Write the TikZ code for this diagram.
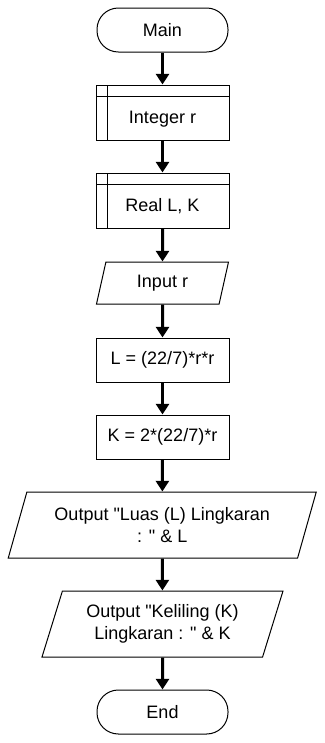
\documentclass[tikz,border=0pt]{standalone}
\usepackage{fontspec}
\setmainfont{Liberation Sans}[Ligatures=TeXOff]
\usetikzlibrary{shapes.geometric, arrows.meta}
\tikzstyle{arrow} = [line width=2.25pt, -{Triangle[length=8pt, width=9.75pt]}]
\tikzstyle{term}  = [draw, line width=0.75pt, rounded corners=16pt, minimum width=98.25pt, minimum height=33pt, align=center]

\begin{document}
\begin{tikzpicture}[
        x=0.75pt, y=-0.75pt,
        every node/.style={font=\fontsize{13.5}{16}\selectfont},
        proc/.style={
            draw,
            line width=0.75pt,
            minimum width=99.75pt,
            minimum height=33pt,
            align=center
        },
        decl/.style={
            proc,
            minimum height=41.25pt,
            text height=18pt,
            text depth=1pt,
            path picture={
                \draw[line width=0.75pt] ([yshift=-8.25pt]path picture bounding box.north west) -- ([yshift=-8.25pt]path picture bounding box.north east);
                \draw[line width=0.75pt] ([xshift=8.25pt]path picture bounding box.north west) -- ([xshift=8.25pt]path picture bounding box.south west);
            }
        },
        io/.style={
            draw,
            line width=0.75pt,
            trapezium,
            trapezium left angle=63.4,
            trapezium right angle=116.6,
            trapezium stretches body,
            inner sep=1pt,
            align=center
        }
    ]

        \useasboundingbox (0,0) rectangle (325,743);

        \node[term] (main) at (162.5,30) {Main};
        \node[decl] (int) at (162.5,112.5) {Integer r};
        \node[decl] (real) at (162.5,200.5) {Real L, K};
        \node[io, minimum width=99pt, minimum height=31.5pt] (inp) at (162.5,283) {Input r};
        \node[proc] (luas) at (162.5,360) {L = (22/7)*r*r};
        \node[proc] (kel) at (162.5,437) {K = 2*(22/7)*r};
        \node[io, minimum width=231pt, minimum height=49.5pt] (outl) at (162.25,525) {Output "Luas (L) Lingkaran\\ : " \& L};
        \node[io, minimum width=180.75pt, minimum height=49.5pt] (outk) at (162.5,624) {Output "Keliling (K)\\ Lingkaran : " \& K};
        \node[term] (end) at (162.5,712) {End};

        \draw[arrow] (main) -- (int);
        \draw[arrow] (int) -- (real);
        \draw[arrow] (real) -- (inp);
        \draw[arrow] (inp) -- (luas);
        \draw[arrow] (luas) -- (kel);
        \draw[arrow] (kel) -- (outl);
        \draw[arrow] (outl) -- (outk);
        \draw[arrow] (outk) -- (end);

    \end{tikzpicture}
\end{document}
